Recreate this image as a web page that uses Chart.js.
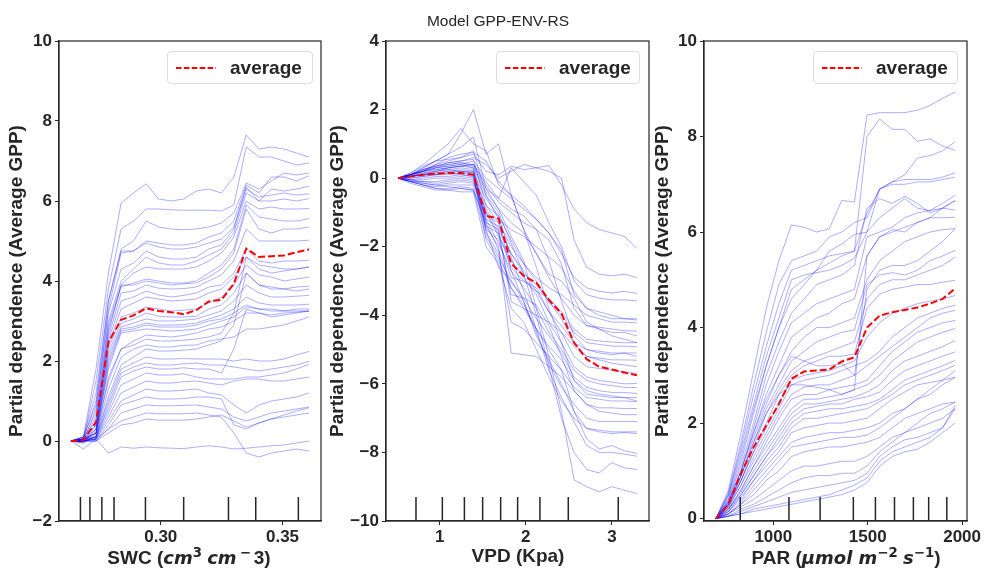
<!DOCTYPE html>
<html>
<head>
<meta charset="utf-8">
<script src="https://cdn.jsdelivr.net/npm/chart.js@4/dist/chart.umd.min.js"></script>
<style>
  body { margin: 0; width: 985px; height: 568px; overflow: hidden; position: relative; background: #fff;
         font-family: "Liberation Sans", Arial, sans-serif; color: #262626; }
  .panel { position: absolute; top: 0; }
  .txt { position: absolute; white-space: nowrap; text-align: center; }
  .xtitle { font-size: 19px; font-weight: bold; line-height: 22px; width: 240px; }
  .xtitle i { font-family: "DejaVu Sans", sans-serif; font-size: 18px; }
  .xtitle sup { font-size: 0.7em; line-height: 0; vertical-align: 0.5em; font-family: "DejaVu Sans", sans-serif; font-style: normal; }
  .xtitle .gap { padding: 0 3px; }
  .legend { position: absolute; top: 51px; height: 33px; box-sizing: border-box; border: 1px solid #dcdcdc;
            border-radius: 4px; background: rgba(255, 255, 255, 0.8); }
  .legend svg { position: absolute; left: 8px; top: 14px; }
  .legend span { position: absolute; left: 62px; top: 0; line-height: 31px; font-size: 19px; font-weight: bold; }
</style>
</head>
<body>
<canvas id="swc-chart" class="panel" style="left:0px" width="330" height="568"></canvas>
<canvas id="vpd-chart" class="panel" style="left:330px" width="330" height="568"></canvas>
<canvas id="par-chart" class="panel" style="left:655px" width="330" height="568"></canvas>

<div class="txt" style="left:398px; top:12px; width:200px; font-size:15.5px; line-height:18px;">Model GPP-ENV-RS</div>

<div class="legend" style="left:167px; width:146px;"><svg width="40" height="4"><line x1="0" y1="2" x2="40" y2="2" stroke="#ff0000" stroke-width="2" stroke-dasharray="5.5 2.4"/></svg><span>average</span></div>
<div class="legend" style="left:496px; width:144px;"><svg width="40" height="4"><line x1="0" y1="2" x2="40" y2="2" stroke="#ff0000" stroke-width="2" stroke-dasharray="5.5 2.4"/></svg><span>average</span></div>
<div class="legend" style="left:813px; width:145px;"><svg width="40" height="4"><line x1="0" y1="2" x2="40" y2="2" stroke="#ff0000" stroke-width="2" stroke-dasharray="5.5 2.4"/></svg><span>average</span></div>

<div class="txt xtitle" style="left:69px; top:547px;">SWC (<i>cm</i><sup>3</sup> <i>cm</i><sup class="gap">−</sup>3)</div>
<div class="txt xtitle" style="left:398px; top:545px;">VPD (Kpa)</div>
<div class="txt xtitle" style="left:726px; top:547px;">PAR (<i>μmol m</i><sup>−2</sup> <i>s</i><sup>−1</sup>)</div>

<script>
// ---- SWC panel ----
const swcGrid = [0.2631, 0.2682, 0.2734, 0.2785, 0.2837, 0.2888, 0.2940, 0.2991, 0.3043, 0.3094,
  0.3146, 0.3197, 0.3249, 0.3300, 0.3351, 0.3403, 0.3454, 0.3506, 0.3557, 0.3609];
const swcAverage = [0, 0.02, 0.47, 2.47, 3.03, 3.14, 3.32, 3.25, 3.22, 3.17,
  3.27, 3.49, 3.53, 3.93, 4.81, 4.6, 4.62, 4.64, 4.72, 4.79];
const swcIce = [
  [0, 0.1, 1.8, 4.2, 5.95, 6.2, 6.43, 6.05, 6.0, 6.05, 6.25, 6.3, 6.2, 6.6, 7.65, 7.3, 7.35, 7.3, 7.2, 7.1],
  [0, 0.05, 1.5, 3.8, 5.3, 5.5, 5.8, 5.8, 5.78, 5.77, 5.77, 5.77, 5.75, 5.9, 7.35, 7.1, 7.1, 7.0, 6.9, 6.95],
  [0, 0.1, 1.2, 3.5, 4.8, 5.0, 5.5, 5.35, 5.3, 5.28, 5.3, 5.35, 5.45, 5.7, 6.45, 6.3, 6.5, 6.7, 6.65, 6.7],
  [0, 0.05, 1.0, 3.5, 4.75, 4.75, 5.0, 4.95, 4.9, 4.9, 4.95, 5.1, 5.2, 5.5, 6.4, 6.2, 6.6, 6.6, 6.5, 6.63],
  [0, 0, 0.8, 3.3, 4.7, 4.75, 4.95, 4.85, 4.8, 4.8, 4.85, 4.95, 5.05, 5.35, 6.35, 6.0, 6.3, 6.25, 6.3, 6.37],
  [0, 0.1, 0.9, 3.2, 4.3, 4.45, 4.75, 4.6, 4.55, 4.55, 4.6, 4.8, 4.9, 5.3, 6.3, 6.1, 6.15, 6.2, 6.15, 6.18],
  [0, 0.05, 0.7, 3.0, 4.0, 4.3, 4.6, 4.45, 4.4, 4.4, 4.5, 4.65, 4.8, 5.2, 6.2, 6.0, 6.0, 6.05, 6.0, 6.06],
  [0, 0, 0.6, 2.9, 3.9, 4.2, 4.35, 4.3, 4.3, 4.3, 4.35, 4.5, 4.7, 5.1, 6.0, 5.8, 5.85, 5.8, 5.8, 5.81],
  [0, 0.1, 0.5, 2.8, 3.85, 3.95, 4.05, 4.0, 3.95, 3.95, 4.0, 4.2, 4.4, 4.8, 5.9, 5.6, 5.55, 5.5, 5.5, 5.56],
  [0, 0.05, 0.4, 2.7, 3.9, 3.9, 4.0, 3.95, 3.9, 3.93, 3.95, 4.1, 4.3, 4.7, 5.8, 5.3, 5.2, 5.3, 5.3, 5.35],
  [0, 0, 0.4, 2.6, 3.7, 3.75, 3.9, 3.82, 3.8, 3.81, 3.85, 4.0, 4.15, 4.5, 5.3, 5.0, 5.0, 5.0, 5.0, 5.02],
  [0, 0.05, 0.3, 2.5, 3.5, 3.6, 3.75, 3.65, 3.6, 3.64, 3.7, 3.85, 3.9, 4.2, 4.8, 4.5, 4.45, 4.5, 4.5, 4.52],
  [0, -0.05, 0.3, 2.4, 3.3, 3.45, 3.6, 3.55, 3.5, 3.52, 3.55, 3.7, 3.8, 4.1, 4.6, 4.4, 4.35, 4.3, 4.3, 4.35],
  [0, 0, 0.3, 2.3, 3.1, 3.2, 3.35, 3.3, 3.25, 3.27, 3.3, 3.45, 3.6, 3.9, 4.4, 4.15, 4.1, 4.0, 4.05, 4.1],
  [0, 0.05, 0.2, 2.2, 2.95, 3.05, 3.2, 3.12, 3.1, 3.1, 3.12, 3.3, 3.4, 3.7, 4.2, 3.9, 3.85, 3.8, 3.85, 3.87],
  [0, 0, 0.2, 2.1, 2.85, 2.95, 3.05, 3.0, 3.0, 3.02, 3.05, 3.15, 3.25, 3.5, 3.9, 3.7, 3.6, 3.6, 3.62, 3.64],
  [0, 0.05, 0.2, 2.0, 2.8, 2.85, 2.95, 2.9, 2.9, 2.91, 2.95, 3.05, 3.15, 3.3, 3.6, 3.45, 3.4, 3.4, 3.4, 3.42],
  [0, -0.05, 0.15, 1.9, 2.75, 2.8, 2.9, 2.85, 2.85, 2.85, 2.9, 3.0, 3.05, 3.2, 3.4, 3.3, 3.25, 3.25, 3.25, 3.25],
  [0, 0, 0.2, 1.8, 2.7, 2.75, 2.8, 2.78, 2.75, 2.77, 2.8, 2.9, 3.0, 3.1, 3.35, 3.3, 3.3, 3.25, 3.3, 3.3],
  [0, 0, 0.1, 1.6, 2.3, 2.5, 2.65, 2.62, 2.6, 2.64, 2.7, 2.8, 2.85, 3.0, 3.2, 3.2, 3.15, 3.2, 3.22, 3.25],
  [0, 0.05, 0.2, 1.5, 2.3, 2.4, 2.55, 2.5, 2.5, 2.52, 2.55, 2.6, 2.7, 3.2, 4.6, 4.3, 4.2, 4.25, 4.3, 4.35],
  [0, 0, 0.1, 1.3, 2.1, 2.3, 2.4, 2.35, 2.35, 2.39, 2.4, 2.5, 2.55, 2.6, 2.8, 2.8, 2.85, 2.9, 3.0, 3.1],
  [0, 0.05, 0.1, 1.1, 1.9, 2.1, 2.3, 2.25, 2.25, 2.27, 2.3, 2.4, 2.5, 2.9, 4.2, 3.9, 3.8, 3.8, 3.75, 3.8],
  [0, 0, 0.1, 1.0, 1.8, 1.95, 2.1, 2.05, 2.05, 2.06, 2.05, 2.05, 2.05, 2.0, 2.05, 2.0, 2.0, 2.05, 2.15, 2.24],
  [0, 0, 0.05, 0.9, 1.7, 1.85, 1.95, 1.9, 1.9, 1.93, 1.95, 1.9, 1.9, 1.85, 1.8, 1.75, 1.8, 1.85, 1.9, 1.99],
  [0, 0.05, 0.1, 0.8, 1.6, 1.75, 1.85, 1.8, 1.8, 1.83, 1.8, 1.8, 1.7, 2.3, 3.3, 3.2, 3.1, 3.15, 3.2, 3.25],
  [0, 0, 0.05, 0.7, 1.4, 1.55, 1.7, 1.65, 1.65, 1.68, 1.6, 1.55, 1.55, 1.55, 1.6, 1.6, 1.65, 1.7, 1.8, 1.92],
  [0, 0, 0.05, 0.6, 1.2, 1.35, 1.5, 1.45, 1.45, 1.48, 1.5, 1.45, 1.4, 1.5, 1.55, 1.55, 1.5, 1.5, 1.55, 1.6],
  [0, 0.05, 0.05, 0.5, 1.0, 1.15, 1.3, 1.25, 1.25, 1.27, 1.3, 1.2, 1.15, 0.9, 0.7, 0.9, 1.0, 1.05, 1.1, 1.2],
  [0, 0, 0, 0.4, 0.9, 1.0, 1.1, 1.05, 1.05, 1.06, 1.1, 1.1, 1.05, 0.4, 0.3, 0.45, 0.55, 0.65, 0.75, 0.83],
  [0, 0, 0.05, 0.3, 0.7, 0.8, 0.9, 0.88, 0.88, 0.89, 0.9, 0.85, 0.8, 0.6, 0.5, 0.6, 0.7, 0.75, 0.8, 0.85],
  [0, 0, 0, 0.3, 0.5, 0.6, 0.7, 0.68, 0.68, 0.68, 0.7, 0.65, 0.6, 0.2, -0.3, -0.4, -0.3, -0.25, -0.2, -0.25],
  [0, 0, 0, 0.2, 0.4, 0.45, 0.55, 0.52, 0.52, 0.52, 0.55, 0.6, 0.65, 0.5, 0.35, 0.45, 0.55, 0.6, 0.65, 0.7],
  [0, -0.2, 0.05, -0.3, -0.15, -0.18, -0.15, -0.17, -0.18, -0.19, -0.15, -0.12, -0.15, -0.2, -0.18, -0.15, -0.12, -0.1, -0.05, 0.0],
];
const swcDeciles = [0.2670, 0.2709, 0.2758, 0.2808, 0.2937, 0.3094, 0.3278, 0.3390, 0.3565];
const swcXTicks = [0.30, 0.35];
const swcYTicks = [-2, 0, 2, 4, 6, 8, 10];

// ---- VPD panel ----
const vpdGrid = [0.516, 0.662, 0.808, 0.954, 1.100, 1.246, 1.392, 1.538, 1.684, 1.830,
  1.976, 2.122, 2.268, 2.414, 2.560, 2.706, 2.852, 2.998, 3.144, 3.290];
const vpdAverage = [0, 0.05, 0.1, 0.13, 0.15, 0.15, 0.1, -1.1, -1.18, -2.49,
  -2.85, -3.05, -3.55, -3.95, -4.8, -5.28, -5.5, -5.58, -5.67, -5.75];
const vpdIce = [
  [0, 0.1, 0.3, 0.5, 0.7, 1.3, 2.0, 0.7, 1.0, -0.5, -1.5, -2.2, -2.8, -3.0, -3.5, -4.2, -4.4, -4.6, -4.7, -4.8],
  [0, 0.15, 0.35, 0.5, 0.55, 0.6, 0.7, 0.2, 0.1, 0.35, 0.25, 0.3, 0.37, -0.2, -0.9, -1.3, -1.5, -1.6, -1.7, -2.05],
  [0, 0.1, 0.25, 0.35, 0.45, 0.5, 0.6, 0.4, 0.0, 0.2, 0.4, 0.3, 0.2, 0.0, -1.8, -2.6, -2.8, -2.85, -2.8, -2.9],
  [0, 0.15, 0.4, 0.7, 1.0, 1.45, 1.0, 0.8, -0.2, -0.5, -0.8, -1.2, -1.6, -2.2, -2.9, -3.2, -3.3, -3.35, -3.3, -3.36],
  [0, 0.1, 0.3, 0.5, 0.7, 0.9, 1.2, -0.3, -0.6, 0.3, -0.1, -0.5, -1.3, -2.0, -3.0, -3.4, -3.5, -3.55, -3.55, -3.58],
  [0, 0.1, 0.25, 0.4, 0.5, 0.6, 0.8, -0.5, -1.2, -1.5, -1.7, -2.0, -2.3, -2.6, -3.3, -3.8, -4.0, -4.1, -4.1, -4.14],
  [0, 0.05, 0.2, 0.35, 0.45, 0.5, 0.55, -0.8, -1.1, -1.8, -2.5, -2.9, -3.2, -3.4, -3.7, -4.0, -4.1, -4.2, -4.2, -4.22],
  [0, 0.1, 0.2, 0.3, 0.4, 0.45, 0.4, -0.3, -0.9, -1.3, -1.6, -2.2, -2.9, -3.5, -4.0, -4.3, -4.35, -4.4, -4.45, -4.46],
  [0, 0.05, 0.15, 0.25, 0.3, 0.35, 0.3, -1.0, -1.6, -2.6, -3.0, -3.3, -3.5, -3.9, -4.4, -4.7, -4.75, -4.78, -4.8, -4.8],
  [0, 0.05, 0.1, 0.2, 0.25, 0.3, 0.25, -1.2, -1.4, -2.2, -2.8, -3.1, -3.6, -4.0, -4.5, -4.8, -4.85, -4.9, -4.9, -4.92],
  [0, 0.05, 0.1, 0.15, 0.2, 0.25, 0.2, -1.5, -1.8, -2.9, -3.0, -3.2, -3.9, -4.3, -4.8, -5.0, -5.05, -5.1, -5.1, -5.1],
  [0, 0, 0.05, 0.1, 0.15, 0.2, 0.2, -1.3, -1.5, -3.6, -3.8, -4.0, -4.2, -4.5, -4.9, -5.2, -5.25, -5.3, -5.3, -5.31],
  [0, 0.05, 0.1, 0.15, 0.2, 0.2, 0.15, -1.4, -2.0, -5.1, -5.15, -5.2, -5.5, -5.8, -6.2, -6.6, -6.7, -6.7, -6.72, -6.72],
  [0, 0, 0.05, 0.1, 0.1, 0.15, 0.1, -1.6, -2.2, -4.2, -4.4, -4.8, -5.2, -5.6, -6.1, -6.4, -6.45, -6.5, -6.5, -6.52],
  [0, -0.05, 0, 0.05, 0.05, 0.1, 0.05, -1.8, -2.4, -3.2, -3.8, -4.4, -4.9, -5.3, -5.9, -6.3, -6.35, -6.4, -6.4, -6.4],
  [0, -0.05, -0.05, 0, 0, 0.05, 0, -1.5, -2.6, -3.0, -3.5, -4.1, -4.6, -5.1, -5.8, -6.1, -6.2, -6.25, -6.25, -6.28],
  [0, -0.05, -0.1, -0.1, -0.05, 0, -0.05, -1.2, -1.9, -2.7, -3.2, -3.8, -4.5, -5.0, -5.6, -5.9, -6.0, -6.05, -6.1, -6.11],
  [0, -0.1, -0.1, -0.15, -0.1, -0.05, -0.1, -1.0, -1.7, -2.4, -2.9, -3.4, -4.2, -4.8, -5.5, -5.8, -5.9, -5.95, -6.0, -5.99],
  [0, -0.1, -0.15, -0.2, -0.15, -0.1, -0.15, -0.9, -1.5, -2.2, -2.7, -3.3, -3.9, -4.5, -5.2, -5.5, -5.55, -5.6, -5.65, -5.7],
  [0, -0.1, -0.2, -0.25, -0.2, -0.2, -0.2, -1.1, -1.3, -2.0, -2.5, -3.0, -3.6, -4.1, -4.8, -5.2, -5.3, -5.4, -5.45, -5.5],
  [0, -0.1, -0.2, -0.3, -0.3, -0.25, -0.3, -1.4, -1.6, -3.4, -3.5, -3.7, -4.3, -5.2, -6.2, -6.6, -6.8, -6.85, -6.9, -6.9],
  [0, -0.15, -0.25, -0.35, -0.35, -0.3, -0.35, -1.7, -2.3, -3.0, -3.6, -4.5, -5.4, -6.1, -6.6, -7.0, -7.1, -7.1, -7.1, -7.1],
  [0, -0.1, -0.2, -0.3, -0.35, -0.4, -0.4, -2.0, -2.5, -3.8, -4.2, -5.0, -5.8, -6.5, -7.0, -7.3, -7.35, -7.4, -7.4, -7.4],
  [0, -0.05, -0.15, -0.2, -0.25, -0.3, -0.35, -1.3, -2.1, -3.2, -3.7, -4.4, -5.0, -5.6, -6.8, -7.3, -7.4, -7.45, -7.42, -7.45],
  [0, 0.05, 0.1, 0.1, 0.15, 0.1, 0.05, -0.8, -1.3, -2.7, -3.6, -4.6, -5.3, -6.0, -6.8, -7.6, -7.9, -7.8, -7.95, -8.03],
  [0, 0.05, 0.15, 0.2, 0.25, 0.2, 0.15, -0.6, -1.1, -2.3, -3.3, -4.4, -5.6, -6.4, -7.1, -7.8, -8.0, -8.0, -8.05, -8.11],
  [0, 0.1, 0.2, 0.3, 0.35, 0.4, 0.3, -0.5, -1.0, -1.9, -2.8, -4.0, -5.5, -7.0, -8.0, -8.5, -8.6, -8.3, -8.45, -8.5],
  [0, 0.1, 0.25, 0.35, 0.4, 0.45, 0.35, -0.4, -0.9, -1.7, -2.4, -3.8, -5.2, -6.8, -8.8, -9.0, -9.15, -9.0, -9.1, -9.2],
  [0, 0.1, 0.2, 0.3, 0.35, 0.4, 0.5, 0, -0.3, -0.6, -0.9, -1.2, -1.6, -2.1, -3.4, -3.8, -3.9, -4.0, -4.1, -4.1],
  [0, 0.1, 0.2, 0.25, 0.3, 0.35, 0.4, -0.2, -0.7, -1.0, -1.3, -1.5, -1.8, -2.5, -3.8, -4.3, -4.4, -4.5, -4.5, -4.6],
  [0, 0.05, 0.1, 0.2, 0.3, 0.35, 0.4, -0.1, -0.6, -0.9, -1.1, -1.5, -2.4, -3.6, -4.6, -5.0, -5.1, -5.15, -5.1, -5.2],
  [0, 0.1, 0.2, 0.4, 0.6, 0.7, 0.75, 0.5, -0.1, -0.5, -1.5, -2.6, -3.8, -4.8, -5.9, -6.2, -6.3, -6.35, -6.4, -6.5],
];
const vpdDeciles = [0.725, 1.031, 1.287, 1.499, 1.708, 1.905, 2.164, 2.493, 3.073];
const vpdXTicks = [1, 2, 3];
const vpdYTicks = [-10, -8, -6, -4, -2, 0, 2, 4];

// ---- PAR panel ----
const parGrid = [696, 762.7, 829.4, 896.1, 962.8, 1029.5, 1096.2, 1162.9, 1229.6, 1296.3,
  1363, 1429.7, 1496.4, 1563.1, 1629.8, 1696.5, 1763.2, 1829.9, 1896.6, 1963.3];
const parAverage = [0, 0.3, 0.95, 1.5, 1.95, 2.4, 2.93, 3.08, 3.1, 3.12,
  3.29, 3.38, 4.0, 4.25, 4.32, 4.37, 4.42, 4.5, 4.6, 4.82];
const parIce = [
  [0, 0.6, 1.8, 3.1, 4.4, 5.4, 6.15, 6.1, 6.0, 6.07, 6.66, 6.63, 8.45, 8.5, 8.5, 8.5, 8.55, 8.65, 8.8, 8.93],
  [0, 0.5, 1.5, 2.6, 3.6, 4.5, 5.2, 5.3, 5.4, 5.5, 5.55, 5.6, 8.0, 8.37, 8.15, 8.15, 7.9, 7.95, 7.8, 7.71],
  [0, 0.45, 1.3, 2.3, 3.2, 4.0, 4.8, 5.0, 5.2, 5.35, 5.5, 5.6, 6.4, 6.9, 7.05, 7.2, 7.55, 7.6, 7.7, 7.89],
  [0, 0.5, 1.4, 2.4, 3.4, 4.2, 5.0, 5.1, 5.15, 5.2, 5.3, 5.45, 6.0, 6.9, 7.05, 7.1, 7.1, 7.1, 7.15, 7.24],
  [0, 0.4, 1.2, 2.2, 3.2, 4.0, 4.6, 4.9, 5.2, 5.6, 5.75, 5.95, 6.0, 6.3, 6.5, 6.7, 6.5, 6.45, 6.6, 6.77],
  [0, 0.4, 1.1, 2.0, 3.0, 3.7, 4.3, 4.6, 4.9, 5.0, 5.1, 5.3, 6.5, 6.7, 6.6, 6.75, 6.6, 6.4, 6.5, 6.66],
  [0, 0.35, 1.0, 1.9, 2.8, 3.5, 4.1, 4.3, 4.5, 4.6, 4.7, 4.8, 5.9, 6.0, 6.1, 6.3, 6.4, 6.45, 6.5, 6.46],
  [0, 0.35, 1.0, 1.8, 2.6, 3.2, 3.8, 4.0, 4.2, 4.3, 4.5, 4.6, 5.5, 5.9, 6.0, 6.1, 6.2, 6.3, 6.3, 6.31],
  [0, 0.3, 0.9, 1.7, 2.4, 3.0, 3.5, 3.8, 4.0, 4.0, 4.1, 4.2, 5.0, 5.4, 5.6, 5.8, 5.9, 6.0, 6.05, 6.07],
  [0, 0.3, 0.9, 1.6, 2.3, 2.8, 3.3, 3.5, 3.7, 3.8, 3.9, 3.95, 4.9, 5.1, 5.15, 5.1, 5.2, 5.4, 5.5, 5.62],
  [0, 0.3, 0.8, 1.5, 2.2, 2.7, 3.1, 3.3, 3.4, 3.5, 3.6, 3.7, 4.6, 4.9, 5.0, 5.0, 5.1, 5.2, 5.3, 5.48],
  [0, 0.25, 0.8, 1.4, 2.0, 2.6, 3.0, 3.2, 3.3, 3.4, 3.4, 3.45, 4.4, 4.7, 4.8, 4.85, 4.9, 4.9, 4.95, 4.99],
  [0, 0.3, 0.8, 1.4, 1.9, 2.4, 2.9, 3.0, 3.05, 3.1, 3.2, 3.3, 3.8, 4.1, 4.3, 4.4, 4.5, 4.55, 4.6, 4.67],
  [0, 0.25, 0.7, 1.3, 1.8, 2.3, 2.8, 2.9, 2.95, 3.0, 3.1, 3.2, 3.3, 3.5, 3.8, 4.0, 4.2, 4.3, 4.4, 4.47],
  [0, 0.25, 0.7, 1.2, 1.7, 2.2, 2.6, 2.75, 2.8, 2.8, 2.9, 3.0, 3.2, 3.4, 3.6, 3.8, 4.0, 4.2, 4.3, 4.36],
  [0, 0.2, 0.6, 1.1, 1.6, 2.1, 2.5, 2.6, 2.6, 2.7, 2.75, 2.8, 2.9, 3.2, 3.5, 3.7, 3.9, 4.0, 4.1, 4.15],
  [0, 0.2, 0.6, 1.1, 1.5, 1.9, 2.3, 2.5, 2.5, 2.55, 2.6, 2.7, 2.8, 3.0, 3.3, 3.5, 3.7, 3.8, 3.9, 3.98],
  [0, 0.2, 0.55, 1.0, 1.4, 1.8, 2.2, 2.4, 2.4, 2.45, 2.5, 2.55, 2.65, 2.8, 3.1, 3.3, 3.4, 3.5, 3.6, 3.73],
  [0, 0.2, 0.5, 0.9, 1.3, 1.7, 2.1, 2.3, 2.35, 2.4, 2.4, 2.5, 2.55, 2.65, 2.9, 3.1, 3.2, 3.3, 3.4, 3.49],
  [0, 0.15, 0.5, 0.9, 1.3, 1.6, 2.0, 2.2, 2.25, 2.3, 2.3, 2.35, 2.4, 2.5, 2.7, 2.9, 3.0, 3.1, 3.2, 3.31],
  [0, 0.15, 0.45, 0.8, 1.2, 1.5, 1.9, 2.1, 2.1, 2.15, 2.2, 2.25, 2.3, 2.45, 2.6, 2.8, 2.9, 3.0, 3.1, 3.21],
  [0, 0.15, 0.4, 0.8, 1.1, 1.4, 1.8, 1.9, 1.95, 2.0, 2.0, 2.05, 2.1, 2.3, 2.5, 2.65, 2.8, 2.85, 2.9, 2.96],
  [0, 0.1, 0.35, 0.7, 1.0, 1.3, 1.6, 1.7, 1.75, 1.8, 1.8, 1.85, 1.9, 2.0, 2.2, 2.3, 2.5, 2.6, 2.8, 2.96],
  [0, 0.1, 0.3, 0.6, 0.9, 1.2, 1.5, 1.55, 1.6, 1.65, 1.7, 1.7, 1.75, 1.9, 2.1, 2.3, 2.5, 2.7, 2.9, 3.1],
  [0, 0.1, 0.3, 0.5, 0.8, 1.0, 1.3, 1.4, 1.45, 1.5, 1.5, 1.55, 1.6, 1.7, 1.9, 2.1, 2.2, 2.3, 2.4, 2.44],
  [0, 0.1, 0.25, 0.4, 0.6, 0.8, 1.0, 1.1, 1.1, 1.15, 1.2, 1.2, 1.3, 1.5, 1.7, 1.8, 1.9, 2.0, 2.1, 2.3],
  [0, 0.05, 0.2, 0.3, 0.45, 0.6, 0.75, 0.85, 0.9, 0.9, 0.95, 0.95, 1.1, 1.4, 1.6, 1.8, 2.0, 2.2, 2.3, 2.44],
  [0, 0.05, 0.15, 0.25, 0.35, 0.45, 0.55, 0.6, 0.65, 0.7, 0.75, 0.8, 0.95, 1.3, 1.5, 1.65, 1.7, 1.8, 1.9, 2.3],
  [0, 0.05, 0.1, 0.2, 0.25, 0.3, 0.35, 0.4, 0.45, 0.5, 0.6, 0.7, 0.85, 1.2, 1.4, 1.5, 1.6, 1.7, 1.9, 2.37],
  [0, 0.05, 0.1, 0.15, 0.2, 0.25, 0.3, 0.35, 0.4, 0.45, 0.5, 0.6, 0.75, 1.1, 1.3, 1.4, 1.45, 1.6, 1.8, 2.0],
  [0, 0.3, 0.9, 1.6, 2.2, 2.6, 2.8, 2.8, 2.75, 2.7, 2.6, 2.7, 5.5, 5.9, 6.05, 6.0, 6.2, 6.3, 6.5, 6.66],
  [0, 0.35, 1.0, 1.8, 2.5, 3.0, 3.4, 3.3, 3.2, 3.2, 3.25, 3.0, 4.8, 5.2, 5.3, 5.3, 5.4, 5.6, 5.8, 6.07],
  [0, 0.55, 1.6, 2.8, 3.9, 4.9, 5.4, 5.5, 5.6, 5.9, 6.0, 6.2, 6.3, 6.9, 7.0, 7.0, 7.05, 7.05, 7.1, 7.15],
];
const parDeciles = [825, 1083, 1248, 1424, 1541, 1642, 1742, 1823, 1919];
const parXTicks = [1000, 1500, 2000];
const parYTicks = [0, 2, 4, 6, 8, 10];

const palette = {
  ice: "rgba(0, 0, 255, 0.32)",
  average: "#ff0000",
  ink: "#262626",
};
const fontFamily = "'Liberation Sans', Arial, sans-serif";
const tickFont = { family: fontFamily, size: 17, weight: "bold" };

const frame = {
  id: "frame",
  afterDraw(chart) {
    const { ctx, chartArea } = chart;
    ctx.save();
    ctx.strokeStyle = palette.ink;
    ctx.lineWidth = 1.2;
    ctx.strokeRect(chartArea.left, chartArea.top, chartArea.right - chartArea.left, chartArea.bottom - chartArea.top);
    ctx.restore();
  },
};

const minusSign = (value) => String(value).replace("-", "\u2212");

function buildPanel(canvasId, cfg) {
  const datasets = [
    {
      label: "average",
      data: cfg.grid.map((x, i) => ({ x, y: cfg.average[i] })),
      borderColor: palette.average,
      borderWidth: 2,
      borderDash: [7, 3],
      order: 0,
    },
    {
      label: "deciles",
      data: cfg.deciles.flatMap((d) => [{ x: d, y: cfg.yMin }, { x: d, y: cfg.rugTop }, { x: d, y: null }]),
      borderColor: palette.ink,
      borderWidth: 1.5,
      order: 0,
    },
    ...cfg.ice.map((line, k) => ({
      label: `ice ${k}`,
      data: cfg.grid.map((x, i) => ({ x, y: line[i] })),
      borderColor: palette.ice,
      borderWidth: 1,
      order: 1,
    })),
  ];

  return new Chart(document.getElementById(canvasId), {
    type: "line",
    data: { datasets },
    options: {
      responsive: false,
      animation: false,
      events: [],
      layout: { padding: { top: 41, right: cfg.padRight, left: 0, bottom: 0 } },
      elements: { point: { radius: 0 }, line: { tension: 0, borderCapStyle: "butt" } },
      plugins: { legend: { display: false }, tooltip: { enabled: false } },
      scales: {
        x: {
          type: "linear",
          min: cfg.xMin,
          max: cfg.xMax,
          afterBuildTicks: (scale) => { scale.ticks = cfg.xTicks.map((value) => ({ value })); },
          afterFit: (scale) => { scale.height = 47; },
          ticks: { callback: cfg.xFormat, font: tickFont, color: palette.ink, padding: 2, maxRotation: 0, autoSkip: false },
          grid: { drawOnChartArea: false, tickLength: 4, color: palette.ink },
          border: { color: palette.ink, width: 1.2 },
        },
        y: {
          min: cfg.yMin,
          max: cfg.yMax,
          afterBuildTicks: (scale) => { scale.ticks = cfg.yTicks.map((value) => ({ value })); },
          afterFit: (scale) => { scale.width = cfg.axisWidth; },
          ticks: { callback: minusSign, font: tickFont, color: palette.ink, padding: 3, autoSkip: false },
          grid: { drawOnChartArea: false, tickLength: 4, color: palette.ink },
          border: { color: palette.ink, width: 1.2 },
          title: {
            display: true,
            text: "Partial dependence (Average GPP)",
            color: palette.ink,
            font: { family: fontFamily, size: 19, weight: "bold", lineHeight: 0.85 },
            padding: { top: cfg.titlePad, bottom: 0 },
          },
        },
      },
    },
    plugins: [frame],
  });
}

buildPanel("swc-chart", {
  grid: swcGrid, average: swcAverage, ice: swcIce, deciles: swcDeciles,
  xMin: 0.2582, xMax: 0.3658, yMin: -2, yMax: 10, rugTop: -1.4,
  xTicks: swcXTicks, yTicks: swcYTicks, xFormat: (v) => v.toFixed(2),
  axisWidth: 59, padRight: 9, titlePad: 9,
});
buildPanel("vpd-chart", {
  grid: vpdGrid, average: vpdAverage, ice: vpdIce, deciles: vpdDeciles,
  xMin: 0.377, xMax: 3.43, yMin: -10, yMax: 4, rugTop: -9.3,
  xTicks: vpdXTicks, yTicks: vpdYTicks, xFormat: (v) => String(v),
  axisWidth: 56, padRight: 11, titlePad: 0,
});
buildPanel("par-chart", {
  grid: parGrid, average: parAverage, ice: parIce, deciles: parDeciles,
  xMin: 633, xMax: 2026, yMin: -0.05, yMax: 10, rugTop: 0.45,
  xTicks: parXTicks, yTicks: parYTicks, xFormat: (v) => String(v),
  axisWidth: 49, padRight: 18, titlePad: 0,
});
</script>
</body>
</html>
